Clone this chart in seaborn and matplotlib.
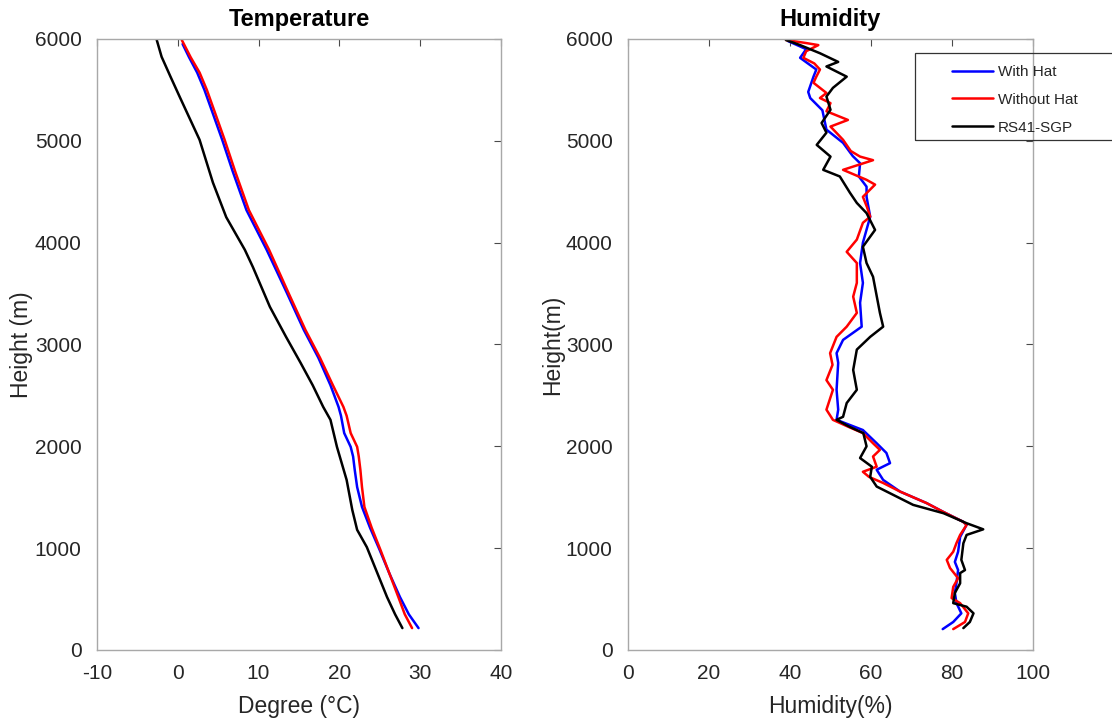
import numpy as np
import pandas as pd
import matplotlib
matplotlib.use("Agg")
import matplotlib.pyplot as plt
from matplotlib.patches import Rectangle
import seaborn as sns

# --- data (height in m) ---
series_names = ["With Hat", "Without Hat", "RS41-SGP"]
series_colors = ["#0000ff", "#ff0000", "#000000"]

# temperature profiles (deg C)
temp_hat_h = [5950, 5820, 5670, 5500, 5300, 5010, 4700, 4320, 3930, 3507, 3143, 2870,
              2600, 2387, 2300, 2130, 1995, 1900, 1770, 1600, 1405, 1200, 980, 750,
              520, 350, 215]
temp_hat = [0.6, 1.4, 2.4, 3.3, 4.2, 5.5, 6.8, 8.5, 11.0, 13.5, 15.6, 17.4,
            18.9, 19.9, 20.2, 20.6, 21.4, 21.7, 21.9, 22.2, 22.8, 23.8, 25.0, 26.2,
            27.5, 28.6, 29.8]

temp_nohat_h = [5990, 5820, 5670, 5500, 5300, 5010, 4700, 4320, 3930, 3507, 3143, 2870,
                2600, 2387, 2300, 2130, 1995, 1900, 1770, 1600, 1405, 1200, 980, 750,
                520, 350, 215]
temp_nohat = [0.5, 1.6, 2.7, 3.6, 4.5, 5.8, 7.1, 8.8, 11.3, 13.7, 15.8, 17.6,
              19.2, 20.5, 20.9, 21.4, 22.2, 22.4, 22.6, 22.8, 23.1, 24.0, 25.1, 26.2,
              27.3, 28.1, 29.0]

temp_rs41_h = [5990, 5825, 5630, 5430, 5010, 4590, 4250, 3930, 3760, 3370, 3075, 2820,
               2600, 2387, 2260, 1995, 1670, 1375, 1180, 1010, 755, 520, 350, 215]
temp_rs41 = [-2.6, -2.0, -0.9, 0.25, 2.7, 4.35, 6.0, 8.3, 9.3, 11.4, 13.4, 15.2,
             16.7, 18.0, 18.9, 19.7, 20.9, 21.6, 22.2, 23.4, 24.7, 25.9, 26.9, 27.8]

# humidity profiles (%)
hum_hat_h = [5980, 5900, 5815, 5700, 5630, 5480, 5420, 5300, 5110, 4980, 4850, 4780,
             4650, 4550, 4450, 4255, 4000, 3800, 3605, 3410, 3175, 3045, 2915, 2820,
             2555, 2360, 2260, 2160, 2030, 1935, 1835, 1770, 1670, 1555, 1443, 1357,
             1260, 1230, 1110, 965, 865, 785, 660, 560, 460, 360, 275, 205]
hum_hat = [39.5, 44.0, 42.5, 46.5, 45.8, 44.5, 45.0, 48.0, 49.0, 53.1, 55.5, 57.3,
           57.0, 58.9, 58.9, 59.8, 58.0, 57.3, 58.0, 57.3, 57.7, 53.1, 51.5, 51.9,
           51.5, 51.9, 51.5, 58.0, 61.4, 63.8, 64.7, 61.4, 63.0, 67.2, 73.7, 77.8,
           82.7, 83.6, 82.0, 81.5, 80.7, 81.5, 81.1, 80.7, 81.1, 82.3, 80.3, 77.7]

hum_nohat_h = [5990, 5960, 5940, 5880, 5815, 5760, 5700, 5630, 5570, 5470, 5420, 5370,
               5290, 5205, 5140, 5010, 4900, 4845, 4810, 4715, 4617, 4570, 4450, 4350,
               4255, 4195, 4030, 3910, 3800, 3605, 3470, 3310, 3175, 3075, 2915, 2800,
               2650, 2555, 2360, 2260, 2190, 2130, 2030, 1965, 1900, 1800, 1750, 1700,
               1640, 1555, 1443, 1357, 1260, 1228, 1130, 1050, 965, 885, 805, 705,
               620, 510, 460, 360, 275, 205]
hum_nohat = [39.0, 44.0, 47.0, 44.0, 43.3, 46.0, 47.4, 46.5, 45.8, 49.0, 47.4, 50.0,
             49.0, 54.3, 50.0, 53.1, 55.0, 57.3, 60.5, 53.1, 58.9, 61.0, 58.0, 59.0,
             59.8, 58.0, 56.5, 54.0, 56.5, 56.5, 55.6, 56.5, 54.0, 51.5, 49.9, 50.5,
             49.0, 50.6, 49.0, 50.6, 54.5, 58.0, 60.5, 62.2, 60.5, 61.4, 58.0, 59.5,
             63.0, 67.2, 73.7, 77.8, 82.7, 83.6, 82.0, 81.1, 80.3, 78.7, 79.5, 81.5,
             80.3, 79.9, 82.0, 84.0, 83.2, 80.3]

hum_rs41_h = [5990, 5940, 5860, 5775, 5730, 5630, 5520, 5435, 5305, 5175, 5080, 4960,
              4845, 4715, 4650, 4490, 4390, 4290, 4125, 3960, 3800, 3665, 3310, 3175,
              3075, 2950, 2750, 2555, 2425, 2290, 2260, 2190, 2130, 2000, 1885, 1800,
              1700, 1605, 1425, 1343, 1245, 1185, 1130, 1048, 885, 785, 755, 655,
              560, 460, 425, 360, 275, 215]
hum_rs41 = [39.0, 42.5, 47.4, 51.9, 49.0, 54.0, 50.6, 49.0, 50.0, 47.8, 49.0, 46.6,
            50.0, 48.2, 52.3, 54.8, 56.5, 58.9, 61.0, 58.0, 58.9, 60.5, 62.2, 63.0,
            59.8, 56.5, 55.6, 56.5, 54.0, 53.1, 51.5, 54.8, 58.1, 58.9, 57.3, 60.2,
            59.8, 61.4, 70.4, 77.9, 83.6, 87.7, 83.6, 82.8, 82.3, 83.2, 82.0, 82.0,
            80.7, 80.3, 83.6, 85.3, 84.4, 82.8]

temp_x_ticks = [-10, 0, 10, 20, 30, 40]
hum_x_ticks = [0, 20, 40, 60, 80, 100]
height_ticks = [0, 1000, 2000, 3000, 4000, 5000, 6000]


def long_form(pairs):
    frames = []
    for name, (h, v) in zip(series_names, pairs):
        frames.append(pd.DataFrame({"height": h, "value": v, "series": name}))
    return pd.concat(frames, ignore_index=True)


df_temp = long_form([(temp_hat_h, temp_hat), (temp_nohat_h, temp_nohat), (temp_rs41_h, temp_rs41)])
df_hum = long_form([(hum_hat_h, hum_hat), (hum_nohat_h, hum_nohat), (hum_rs41_h, hum_rs41)])

# --- style ---
sns.set_style("white")
plt.rcParams["font.family"] = ["Liberation Sans", "DejaVu Sans"]
plt.rcParams["axes.unicode_minus"] = False
palette = dict(zip(series_names, series_colors))

fig = plt.figure(figsize=(11.12, 7.26), dpi=100)
ax1 = fig.add_axes([0.0872, 0.1047, 0.3633, 0.8416])
ax2 = fig.add_axes([0.5647, 0.1047, 0.3643, 0.8416])

sns.lineplot(data=df_temp, x="value", y="height", hue="series", hue_order=series_names,
             palette=palette, sort=False, estimator=None, linewidth=1.8, legend=False, ax=ax1)
sns.lineplot(data=df_hum, x="value", y="height", hue="series", hue_order=series_names,
             palette=palette, sort=False, estimator=None, linewidth=1.8, legend=True, ax=ax2)

for ax, xt, xlim in [(ax1, temp_x_ticks, (-10, 40)), (ax2, hum_x_ticks, (0, 100))]:
    ax.set_xlim(*xlim)
    ax.set_ylim(0, 6000)
    ax.set_xticks(xt)
    ax.set_yticks(height_ticks)
    ax.tick_params(direction="in", top=True, right=True, length=5, width=0.8,
                   color="#4a4a4a", labelsize=15, labelcolor="#262626")
    ax.tick_params(axis="x", pad=10)
    ax.tick_params(axis="y", pad=11)
    for sp in ax.spines.values():
        sp.set_color("#a8a8a8")
        sp.set_linewidth(1.0)

ax1.set_title("Temperature", fontsize=17, fontweight="bold", pad=9, color="black")
ax2.set_title("Humidity", fontsize=17, fontweight="bold", pad=9, color="black")
ax1.set_xlabel("Degree (°C)", fontsize=16.5, color="#262626", labelpad=9)
ax2.set_xlabel("Humidity(%)", fontsize=16.5, color="#262626", labelpad=9)
ax1.set_ylabel("Height (m)", fontsize=16.5, color="#262626", labelpad=1)
ax2.set_ylabel("Height(m)", fontsize=16.5, color="#262626", labelpad=1)

# legend: frameless entries plus a square box that runs off the right edge
handles, labels = ax2.get_legend_handles_labels()
ax2.get_legend().remove()
fig.legend(handles, labels, loc="upper left", bbox_to_anchor=(952 / 1112, 1 - 65 / 726),
           frameon=False, fontsize=11, borderpad=0, handlelength=2.7,
           handletextpad=0.3, labelspacing=0.9, borderaxespad=0)
fig.patches.append(Rectangle((915 / 1112, 1 - 140 / 726), 0.3, 87 / 726,
                             transform=fig.transFigure, fill=False,
                             edgecolor="#333333", linewidth=0.9))

fig.savefig("out.png", dpi=100)
